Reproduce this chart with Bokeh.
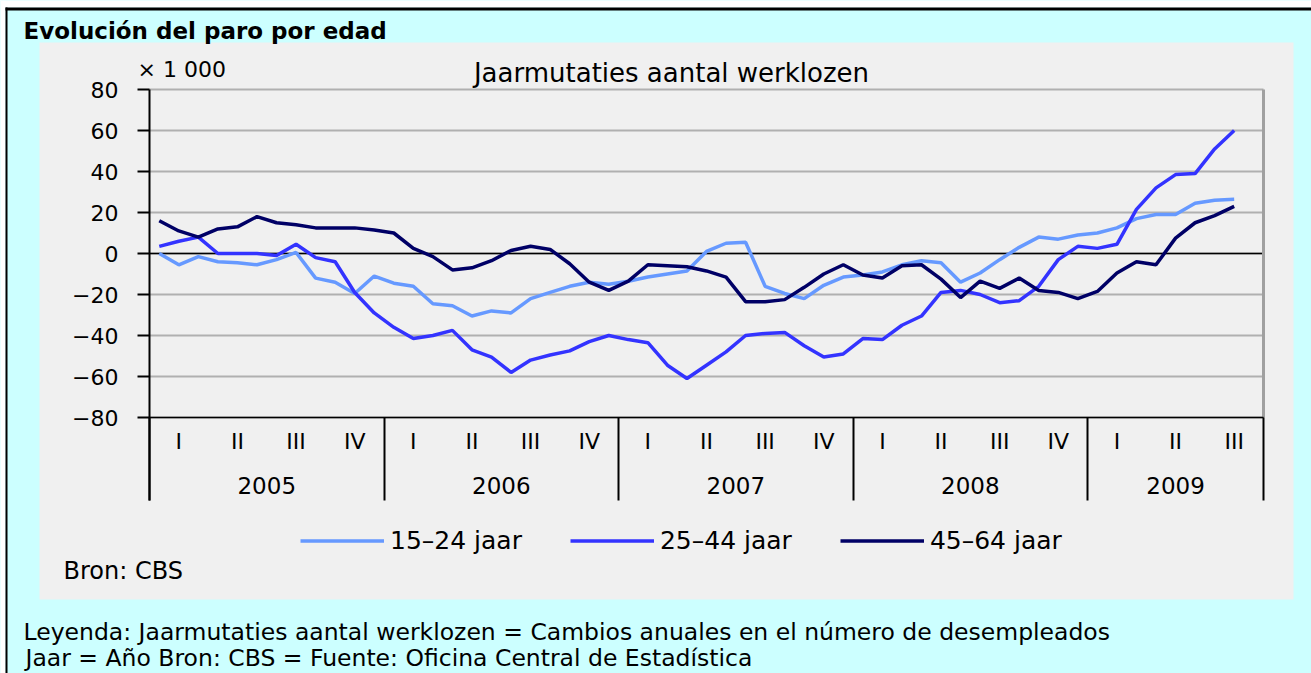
from bokeh.plotting import figure
from bokeh.models import (Range1d, FixedTicker, LinearAxis, Legend, LegendItem,
                          Label, BoxAnnotation, Grid)
from bokeh.embed import file_html
from bokeh.resources import INLINE

# ---- data: monthly, Jan 2005 .. Aug 2009 (x 1 000) ----
months = list(range(56))
age_15_24 = [0, -5.5, -1.5, -4, -4.5, -5.5, -3, 0.5, -12, -14, -19.5, -11,
             -14.5, -16, -24.5, -25.5, -30.5, -28, -29, -22, -19, -16, -14, -15,
             -13.5, -11.5, -10, -8.5, 1, 5, 5.5, -16, -19.5, -22, -15.5, -11.5,
             -10.5, -9, -5.5, -3.5, -4.5, -14, -9.5, -3, 3, 8, 7, 9,
             10, 12.5, 17, 19, 19, 24.5, 26, 26.5]
age_25_44 = [3.5, 6, 8, 0, 0, 0, -1, 4.5, -2, -4, -19, -29,
             -36, -41.5, -40, -37.5, -47, -50.5, -58, -52, -49.5, -47.5, -43, -40,
             -42, -43.5, -54.5, -61, -54.5, -48, -40, -39, -38.5, -45, -50.5, -49,
             -41.5, -42, -35, -30.5, -19, -18, -20, -24, -23, -16, -3, 3.5,
             2.5, 4.5, 21.5, 32, 38.5, 39, 51, 60]
age_45_64 = [16, 11, 8, 12, 13, 18, 15, 14, 12.5, 12.5, 12.5, 11.5,
             10, 2.5, -1.5, -8, -7, -3.5, 1.5, 3.5, 2, -5, -14, -18,
             -13.5, -5.5, -6, -6.5, -8.5, -11.5, -23.5, -23.5, -22.5, -16.5, -10, -5.5,
             -10.5, -12, -6, -5.5, -12.5, -21.5, -13.5, -17, -12, -18, -19, -22,
             -18.5, -9.5, -4, -5.5, 7.5, 15, 18.5, 23]

quarter_labels = ["I", "II", "III", "IV"] * 4 + ["I", "II", "III"]
year_labels = ["2005", "2006", "2007", "2008", "2009"]
year_quarters = [4, 4, 4, 4, 3]
y_ticks = [-80, -60, -40, -20, 0, 20, 40, 60, 80]
series_names = ["15\u201324 jaar", "25\u201344 jaar", "45\u201364 jaar"]
series_colors = ["#6699ff", "#3333ff", "#000066"]

# derived positions (months)
x_mid = [m + 0.5 for m in months]
q_centers = [3 * q + 1.5 for q in range(len(quarter_labels))]
bounds = [0]
for n in year_quarters:
    bounds.append(bounds[-1] + 3 * n)
y_centers = [(bounds[k] + bounds[k + 1]) / 2 for k in range(len(year_labels))]
Y_LO, Y_HI = y_ticks[0], y_ticks[-1]
X_LO, X_HI = bounds[0], bounds[-1]

# ---- layout (page pixels) ----
W, H = 1311, 673
PX_L, PX_R, PX_T, PX_B = 149, 1263, 89, 417      # plot area
SEP_BOTTOM = 500                                 # bottom of year separators
ppx = (PX_R - PX_L) / (X_HI - X_LO)
ppy = (PX_B - PX_T) / (Y_HI - Y_LO)
x_range = Range1d(X_LO - PX_L / ppx, X_HI + (W - PX_R) / ppx)
y_range = Range1d(Y_LO - (H - PX_B) / ppy, Y_HI + PX_T / ppy)
sep_len = SEP_BOTTOM - PX_B

FONT = "DejaVu Sans"

p = figure(width=W, height=H, output_backend="svg", toolbar_location=None,
           x_range=x_range, y_range=y_range, title=None,
           x_axis_location=None, y_axis_location=None,
           min_border=0, min_border_left=0, min_border_right=0,
           min_border_top=0, min_border_bottom=0,
           background_fill_color="#ccffff", border_fill_color="#ccffff",
           outline_line_color=None)
# drop any default grids (they would span the whole canvas)
p.center = [r for r in p.center if not isinstance(r, Grid)]

def box(l, r, t, b, color, level="image"):
    p.add_layout(BoxAnnotation(left=l, right=r, top=H - t, bottom=H - b,
                               left_units="screen", right_units="screen",
                               top_units="screen", bottom_units="screen",
                               fill_color=color, fill_alpha=1, line_color=None,
                               level=level))

# page background, outer border, gray chart panel
box(0, 5, 0, H, "white")
box(0, W, 0, 7, "white")
box(5, 7, 7, H, "black")
box(5, W, 7, 10, "black")
box(39, 1293, 42, 599, "#f0f0f0")

# grid lines (only across the plot area), zero line, right border
n_t = len(y_ticks)
p.segment(x0=[X_LO] * n_t, x1=[X_HI] * n_t, y0=y_ticks, y1=y_ticks,
          line_color="#b0b0b0", line_width=2)
p.segment(x0=[X_LO], x1=[X_HI], y0=[0], y1=[0], line_color="black", line_width=1.5)
p.segment(x0=[X_HI], x1=[X_HI], y0=[Y_LO], y1=[Y_HI], line_color="#a0a0a0", line_width=3)

# series
renderers = []
for vals, col in zip([age_15_24, age_25_44, age_45_64], series_colors):
    renderers.append(p.line(x_mid, vals, line_color=col, line_width=3.5))

# y axis
yax = LinearAxis(fixed_location=X_LO, bounds=(Y_LO - sep_len / ppy, Y_HI),
                 ticker=FixedTicker(ticks=y_ticks),
                 axis_line_color="black", axis_line_width=2,
                 major_tick_line_color="black", major_tick_line_width=2,
                 major_tick_out=12, major_tick_in=0, minor_tick_line_color=None,
                 major_label_standoff=19, major_label_text_font=FONT,
                 major_label_text_font_size="22px", major_label_text_color="black")
p.add_layout(yax, "left")

# x axis line + year separators
sep_ax = LinearAxis(fixed_location=Y_LO, bounds=(X_LO, X_HI),
                    ticker=FixedTicker(ticks=bounds),
                    major_label_overrides={b: "" for b in bounds},
                    axis_line_color="black", axis_line_width=1.5,
                    major_tick_line_color="black", major_tick_line_width=2,
                    major_tick_out=sep_len, major_tick_in=0,
                    minor_tick_line_color=None)
p.add_layout(sep_ax, "below")

# quarter labels
q_ax = LinearAxis(fixed_location=Y_LO, bounds=(X_LO, X_HI),
                  ticker=FixedTicker(ticks=q_centers),
                  major_label_overrides={q: s for q, s in zip(q_centers, quarter_labels)},
                  axis_line_color=None, major_tick_line_color=None,
                  minor_tick_line_color=None, major_tick_out=0, major_tick_in=0,
                  major_label_standoff=11, major_label_text_font=FONT,
                  major_label_text_font_size="22px", major_label_text_color="black")
p.add_layout(q_ax, "below")

# year labels
yr_ax = LinearAxis(fixed_location=Y_LO, bounds=(X_LO, X_HI),
                   ticker=FixedTicker(ticks=y_centers),
                   major_label_overrides={c: s for c, s in zip(y_centers, year_labels)},
                   axis_line_color=None, major_tick_line_color=None,
                   minor_tick_line_color=None, major_tick_out=0, major_tick_in=0,
                   major_label_standoff=59, major_label_text_font=FONT,
                   major_label_text_font_size="23px", major_label_text_color="black")
p.add_layout(yr_ax, "below")

# legend
LEG_H = 29
legend = Legend(items=[LegendItem(label=n, renderers=[r]) for n, r in zip(series_names, renderers)],
                orientation="horizontal", location=(300, H - 540 - LEG_H / 2),
                glyph_width=84, glyph_height=LEG_H, label_height=LEG_H,
                label_standoff=6, spacing=48, padding=0, margin=0,
                border_line_color=None, background_fill_alpha=0,
                label_text_font=FONT, label_text_font_size="25px",
                label_text_color="black")
p.add_layout(legend, "center")

# texts (page pixel positions)
def lab(x, y, text, size, style="normal", align="left"):
    p.add_layout(Label(x=x, y=H - y, x_units="screen", y_units="screen",
                       text=text, text_font=FONT, text_font_size=size,
                       text_font_style=style, text_align=align,
                       text_baseline="middle", text_color="black"))

lab(23, 30, "Evolución del paro por edad", "23px", "bold")
lab(137, 69, "\u00d7 1 000", "22px")
lab(671, 72, "Jaarmutaties aantal werklozen", "26px", align="center")
lab(63, 570, "Bron: CBS", "24px")
lab(23, 631, "Leyenda: Jaarmutaties aantal werklozen = Cambios anuales en el número de desempleados", "23.5px")
lab(25, 657, "Jaar = Año Bron: CBS = Fuente: Oficina Central de Estadística", "23.5px")

open("out.html", "w").write(file_html(p, INLINE))
